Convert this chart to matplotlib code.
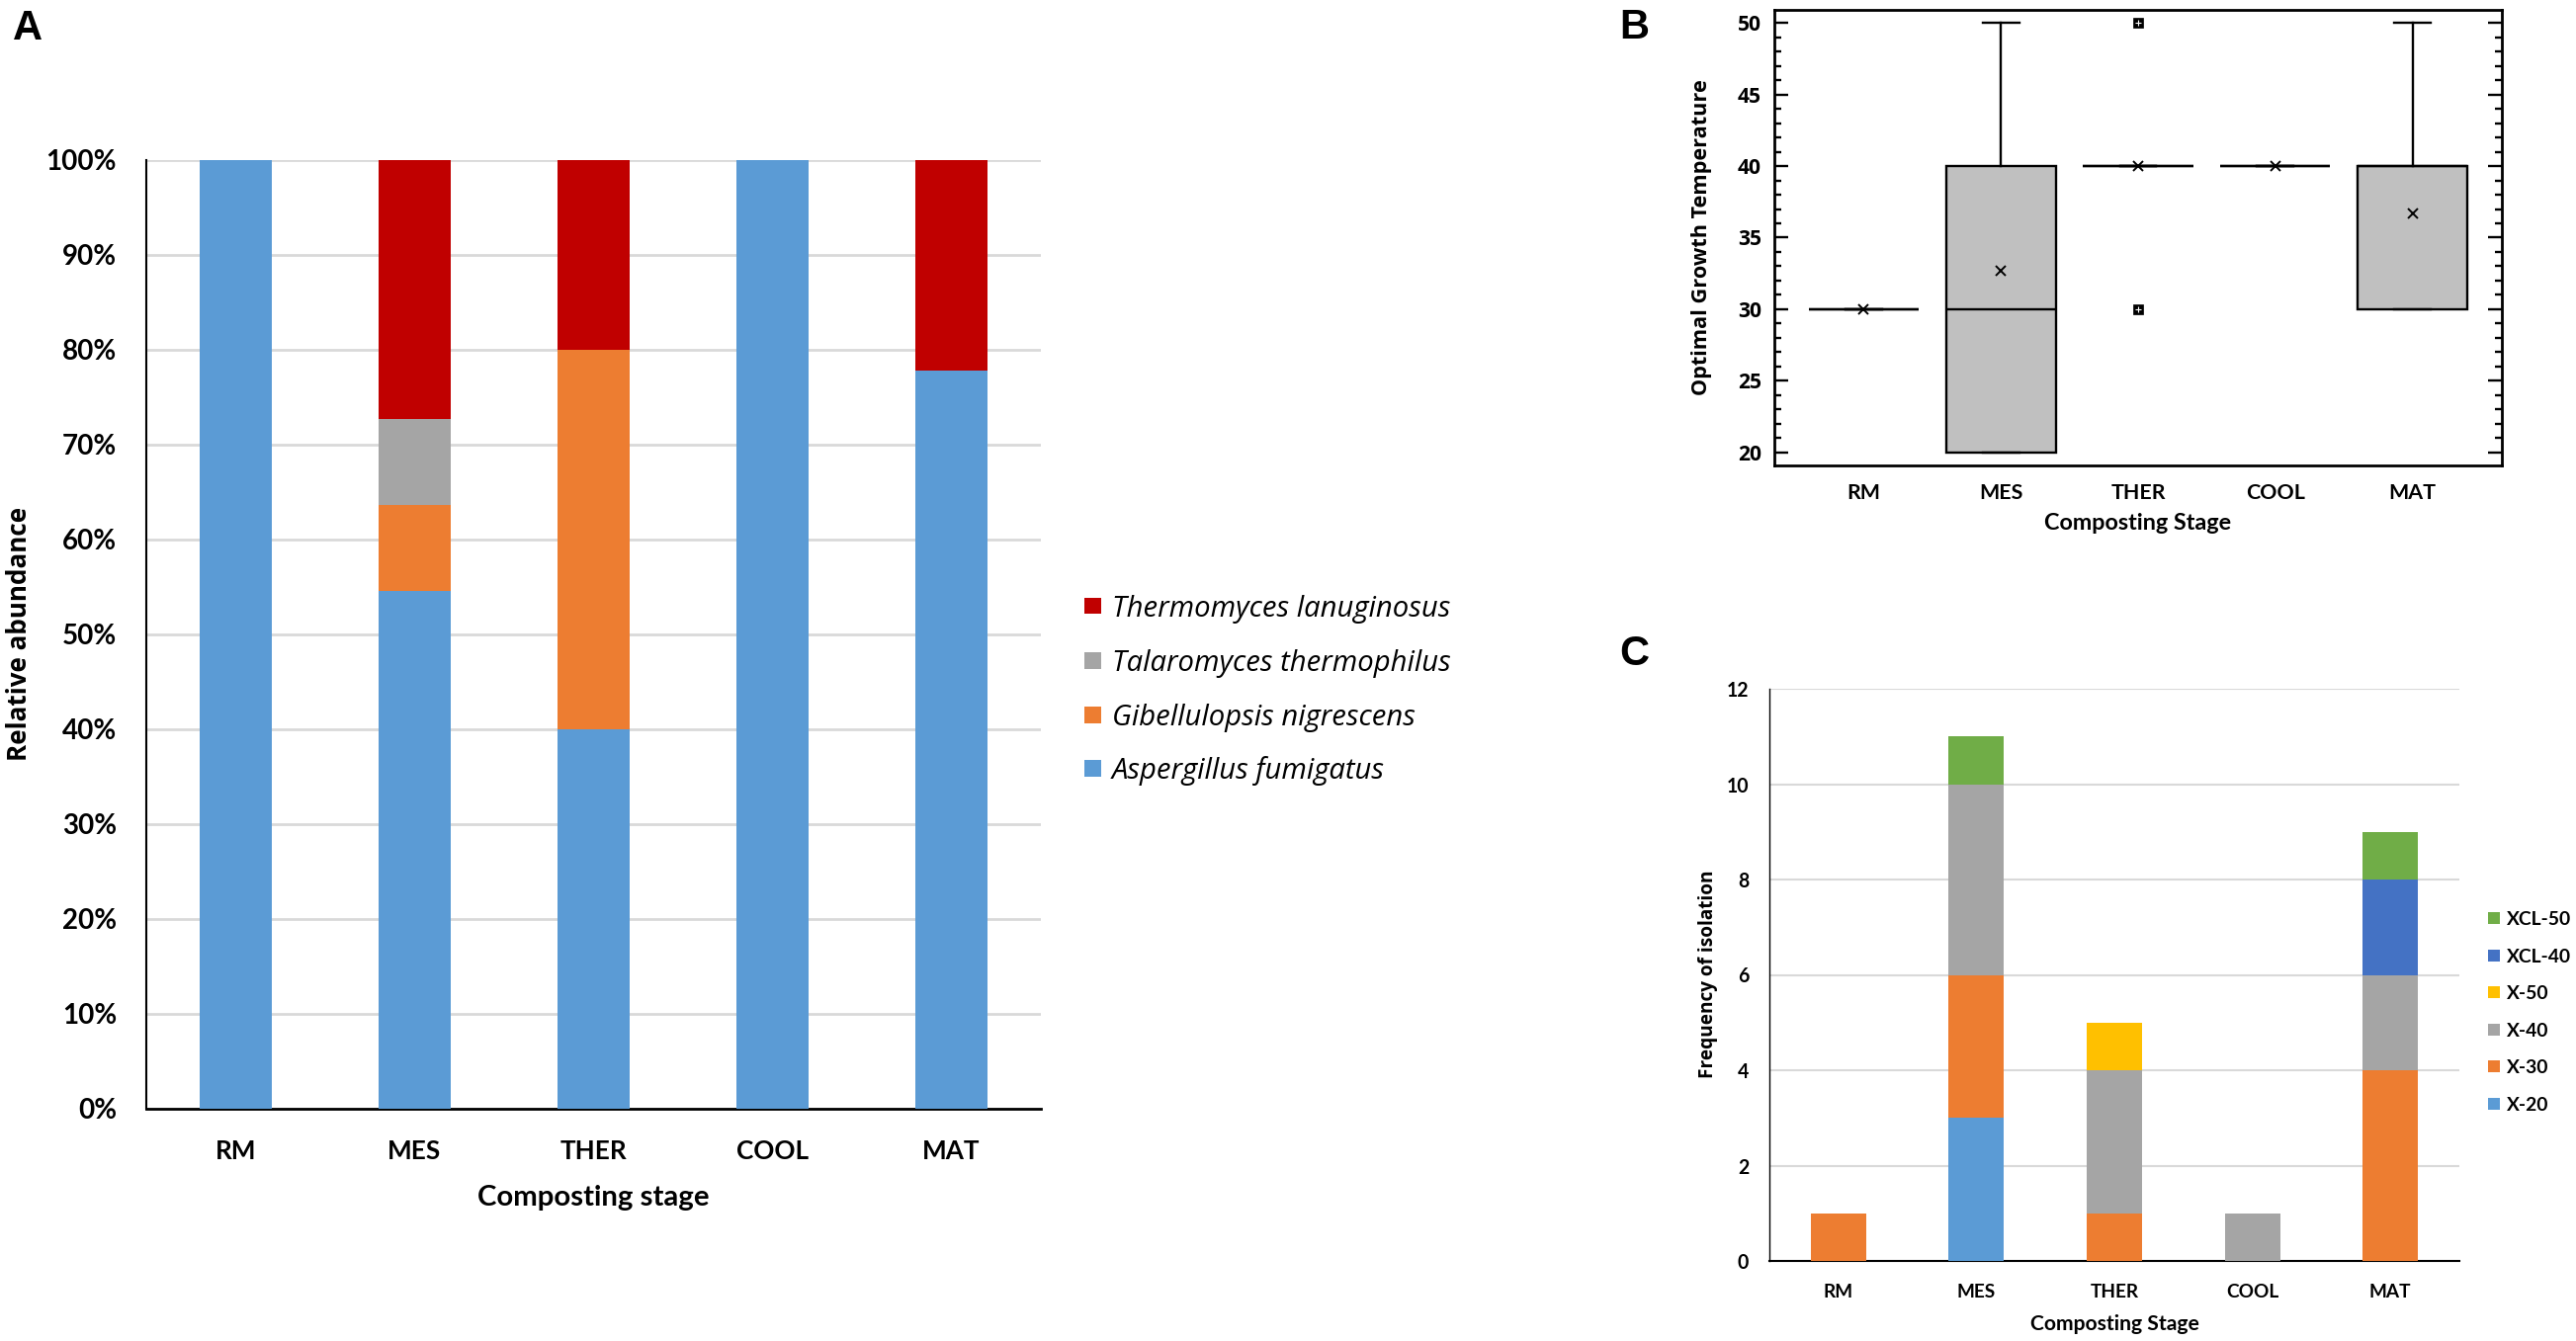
import matplotlib
matplotlib.use("Agg")
import matplotlib.pyplot as plt
from matplotlib import font_manager as fm
from matplotlib.patches import Rectangle
from matplotlib.ticker import MultipleLocator, PercentFormatter
import numpy as np

# ---------------- data ----------------
stages = ["RM", "MES", "THER", "COOL", "MAT"]

# Panel A: relative abundance
species = ["Aspergillus fumigatus", "Gibellulopsis nigrescens",
           "Talaromyces thermophilus", "Thermomyces lanuginosus"]
abund_asp = [1.0, 0.545, 0.40, 1.0, 0.778]
abund_gib = [0.0, 0.091, 0.40, 0.0, 0.0]
abund_tal = [0.0, 0.091, 0.0, 0.0, 0.0]
abund_the = [0.0, 0.273, 0.20, 0.0, 0.222]

# Panel B: optimal growth temperature box statistics
box_q1 = [30, 20, 40, 40, 30]
box_med = [30, 30, 40, 40, 40]
box_q3 = [30, 40, 40, 40, 40]
whis_lo = [30, 20, 40, 40, 30]
whis_hi = [30, 50, 40, 40, 50]
box_mean = [30, 32.7, 40, 40, 36.7]
box_fliers = [[], [], [30, 50], [], []]

# Panel C: frequency of isolation
groups = ["X-20", "X-30", "X-40", "X-50", "XCL-40", "XCL-50"]
freq_x20 = [0, 3, 0, 0, 0]
freq_x30 = [1, 3, 1, 0, 4]
freq_x40 = [0, 4, 3, 1, 2]
freq_x50 = [0, 0, 1, 0, 0]
freq_xcl40 = [0, 0, 0, 0, 2]
freq_xcl50 = [0, 1, 0, 0, 1]

# ---------------- fonts ----------------
available = {f.name for f in fm.fontManager.ttflist}
def pick(*names):
    for n in names:
        if n in available:
            return n
    return "DejaVu Sans"

CAL = pick("Lato", "Open Sans", "Liberation Sans")          # Calibri-like
HUM = pick("Open Sans", "Noto Sans", "Lato", "DejaVu Sans")  # Segoe-like
ARI = pick("Liberation Sans", "DejaVu Sans")

C_BLUE = "#5B9BD5"
C_ORANGE = "#ED7D31"
C_GRAY = "#A5A5A5"
C_YELLOW = "#FFC000"
C_DBLUE = "#4472C4"
C_GREEN = "#70AD47"
C_RED = "#C00000"
GRID = "#D9D9D9"

W, H = 2606, 1357
fig = plt.figure(figsize=(W / 100, H / 100), dpi=100)
FT = fig.transFigure

def px_axes(x0, x1, ytop, ybot):
    return fig.add_axes([x0 / W, 1 - ybot / H, (x1 - x0) / W, (ybot - ytop) / H])

def fx(px):
    return px / W

def fy(py):
    return 1 - py / H

x = np.arange(1, len(stages) + 1)
fits = []        # (text, target px, 'w' or 'h')
tick_fits = []   # (axis, 'x'/'y', sample string, target px)

# ---------------- Panel A ----------------
axA = px_axes(148, 1053, 161.6, 1121.6)
series_A = [(abund_asp, C_BLUE), (abund_gib, C_ORANGE), (abund_tal, C_GRAY), (abund_the, C_RED)]
bottom = np.zeros(len(stages))
for (vals, col), name in zip(series_A, species):
    axA.bar(x, vals, 0.4, bottom=bottom, color=col, zorder=3, label=name)
    bottom += np.array(vals)
axA.set_xlim(0.5, 5.5)
axA.set_ylim(0, 1.0)
axA.yaxis.set_major_locator(MultipleLocator(0.1))
axA.yaxis.set_major_formatter(PercentFormatter(1.0, decimals=0))
axA.grid(axis="y", color=GRID, lw=2, zorder=0)
axA.set_axisbelow(True)
for s in ["top", "right"]:
    axA.spines[s].set_visible(False)
axA.spines["left"].set_linewidth(1.5)
axA.spines["bottom"].set_linewidth(2)
axA.set_xticks(x)
axA.set_xticklabels(stages)
axA.tick_params(length=0, labelsize=21)
axA.tick_params(axis="y", pad=21.6)
axA.tick_params(axis="x", pad=22.6)
for lab in axA.get_xticklabels() + axA.get_yticklabels():
    lab.set_fontfamily(CAL)
    lab.set_fontweight("bold")
tick_fits.append((axA, "y", "100%", 71))
tick_fits.append((axA, "x", "COOL", 73))
t = axA.set_xlabel("Composting stage", fontsize=20, fontfamily=CAL, fontweight="bold", va="center")
axA.xaxis.set_label_coords(fx(600.5), fy(1212), transform=FT)
fits.append((t, 235, "w"))
t = axA.set_ylabel("Relative abundance", fontsize=18, fontfamily=HUM, fontweight="bold", va="center")
axA.yaxis.set_label_coords(fx(20), fy(641), transform=FT)
fits.append((t, 258, "h"))
# legend (top to bottom)
legA_rows = [613, 668, 723, 777]
for (vals, col), name, yc in zip(series_A[::-1], species[::-1], legA_rows):
    fig.add_artist(Rectangle((fx(1097), fy(yc + 8.5)), 17 / W, 17 / H, transform=FT,
                             facecolor=col, edgecolor="none"))
    t = fig.text(fx(1125), fy(yc), name, fontsize=20, fontfamily=HUM, style="italic",
                 va="center_baseline", ha="left")
    if name == "Thermomyces lanuginosus":
        legA_ref = t
    else:
        fits.append((t, None, "follow_legA"))
fits.append((legA_ref, 342, "w"))
fig.text(fx(13), fy(40), "A", fontsize=30, fontweight="bold", fontfamily=ARI, va="baseline", ha="left")

# ---------------- Panel B ----------------
axB = px_axes(1795, 2531, 10, 471)
stats = []
for i in range(len(stages)):
    stats.append(dict(q1=box_q1[i], med=box_med[i], q3=box_q3[i], whislo=whis_lo[i],
                      whishi=whis_hi[i], mean=box_mean[i], fliers=box_fliers[i], label=stages[i]))
axB.bxp(stats, positions=x, widths=0.8, capwidths=0.265, showmeans=True, patch_artist=True,
        boxprops=dict(facecolor="#C0C0C0", edgecolor="black", linewidth=1.7),
        medianprops=dict(color="black", linewidth=1.7),
        whiskerprops=dict(color="black", linewidth=1.7),
        capprops=dict(color="black", linewidth=1.7),
        meanprops=dict(marker="x", markeredgecolor="black", markersize=7, markeredgewidth=1.4),
        flierprops=dict(marker="s", markerfacecolor="black", markeredgecolor="black",
                        markersize=6.5, markeredgewidth=0.5))
for i, fl in enumerate(box_fliers):
    if fl:
        axB.plot([x[i]] * len(fl), fl, ls="none", marker="+", color="white",
                 markersize=4.6, mew=0.8, zorder=5)
axB.set_xlim(0.35, 5.65)
axB.set_ylim(19.08, 50.92)
axB.yaxis.set_major_locator(MultipleLocator(5))
axB.yaxis.set_minor_locator(MultipleLocator(1))
axB.tick_params(axis="y", which="both", direction="in", left=True, right=True, width=1.7)
axB.tick_params(axis="y", which="major", length=10, labelsize=13.5, pad=9.4)
axB.tick_params(axis="y", which="minor", length=5)
axB.tick_params(axis="x", length=0, labelsize=14, pad=13)
for s in axB.spines.values():
    s.set_linewidth(2.0)
axB.set_xticks(x)
axB.set_xticklabels(stages)
for lab in axB.get_xticklabels():
    lab.set_fontfamily(CAL)
    lab.set_fontweight("bold")
for lab in axB.get_yticklabels():
    lab.set_fontfamily(HUM)
    lab.set_fontweight("bold")
tick_fits.append((axB, "y", "50", 24))
tick_fits.append((axB, "x", "COOL", 60))
t = axB.set_xlabel("Composting Stage", fontsize=15, fontfamily=CAL, fontweight="bold", va="center")
axB.xaxis.set_label_coords(fx(2163), fy(530), transform=FT)
fits.append((t, 190, "w"))
t = axB.set_ylabel("Optimal Growth Temperature", fontsize=14, fontfamily=HUM, fontweight="bold", va="center")
axB.yaxis.set_label_coords(fx(1722), fy(240), transform=FT)
fits.append((t, 320, "h"))
fig.text(fx(1638), fy(39), "B", fontsize=30, fontweight="bold", fontfamily=ARI, va="baseline", ha="left")

# ---------------- Panel C ----------------
axC = px_axes(1790, 2488, 697, 1276)
series_C = [(freq_x20, C_BLUE), (freq_x30, C_ORANGE), (freq_x40, C_GRAY),
            (freq_x50, C_YELLOW), (freq_xcl40, C_DBLUE), (freq_xcl50, C_GREEN)]
bottom = np.zeros(len(stages))
for (vals, col), name in zip(series_C, groups):
    axC.bar(x, vals, 0.4, bottom=bottom, color=col, zorder=3, label=name)
    bottom += np.array(vals)
axC.set_xlim(0.5, 5.5)
axC.set_ylim(0, 12)
axC.yaxis.set_major_locator(MultipleLocator(2))
axC.grid(axis="y", color=GRID, lw=1.5, zorder=0)
axC.set_axisbelow(True)
for s in ["top", "right"]:
    axC.spines[s].set_visible(False)
axC.spines["left"].set_linewidth(1.0)
axC.spines["bottom"].set_linewidth(1.5)
axC.set_xticks(x)
axC.set_xticklabels(stages)
axC.tick_params(length=0, labelsize=13)
axC.tick_params(axis="y", pad=15)
axC.tick_params(axis="x", pad=16.5, labelsize=15)
for lab in axC.get_xticklabels() + axC.get_yticklabels():
    lab.set_fontfamily(CAL)
    lab.set_fontweight("bold")
tick_fits.append((axC, "y", "12", 22.6))
tick_fits.append((axC, "x", "COOL", 53))
t = axC.set_xlabel("Composting Stage", fontsize=14.5, fontfamily=CAL, fontweight="bold", va="center")
axC.xaxis.set_label_coords(fx(2139), fy(1340), transform=FT)
fits.append((t, 171, "w"))
t = axC.set_ylabel("Frequency of isolation", fontsize=13.5, fontfamily=HUM, fontweight="bold", va="center")
axC.yaxis.set_label_coords(fx(1728), fy(986), transform=FT)
fits.append((t, 210, "h"))
legC_rows = [929 + 37.6 * k for k in range(6)]
for (vals, col), name, yc in zip(series_C[::-1], groups[::-1], legC_rows):
    fig.add_artist(Rectangle((fx(2517), fy(yc + 6)), 12 / W, 12 / H, transform=FT,
                             facecolor=col, edgecolor="none"))
    t = fig.text(fx(2536), fy(yc), name, fontsize=15, fontfamily=CAL, fontweight="bold",
                 va="center_baseline", ha="left")
    if name == "XCL-50":
        legC_ref = t
    else:
        fits.append((t, None, "follow_legC"))
fits.append((legC_ref, 65, "w"))
fig.text(fx(1638), fy(673), "C", fontsize=30, fontweight="bold", fontfamily=ARI, va="baseline", ha="left")

# ---------------- fit font sizes to the reference text extents ----------------
fig.canvas.draw()
r = fig.canvas.get_renderer()
for t, target, mode in fits:
    if mode in ("w", "h"):
        bb = t.get_window_extent(r)
        cur = bb.width if mode == "w" else bb.height
        t.set_fontsize(t.get_fontsize() * target / cur)
for t, target, mode in fits:
    if mode == "follow_legA":
        t.set_fontsize(legA_ref.get_fontsize())
    elif mode == "follow_legC":
        t.set_fontsize(legC_ref.get_fontsize())
for ax, which, sample, target in tick_fits:
    labs = ax.get_xticklabels() if which == "x" else ax.get_yticklabels()
    for lab in labs:
        if lab.get_text() == sample:
            w = lab.get_window_extent(r).width
            new = lab.get_fontsize() * target / w
            ax.tick_params(axis=which, which="major", labelsize=new)
            break

fig.savefig("out.png", dpi=100, facecolor="white")
